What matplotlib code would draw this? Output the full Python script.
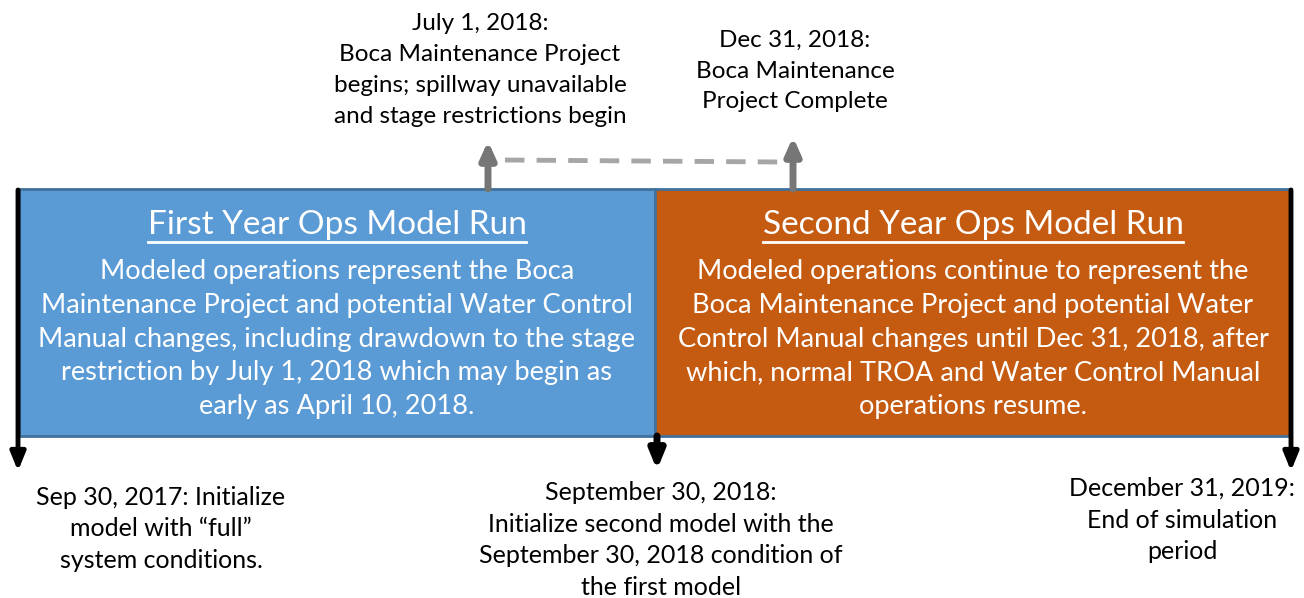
import matplotlib
matplotlib.use('Agg')
import matplotlib.pyplot as plt
from matplotlib.patches import Rectangle

plt.rcParams['font.family'] = ['Lato', 'DejaVu Sans']

# ---------------------------------------------
# Content of the timeline
box_titles = ['First Year Ops Model Run', 'Second Year Ops Model Run']
box_bodies = [
    'Modeled operations represent the Boca\n'
    'Maintenance Project and potential Water Control\n'
    'Manual changes, including drawdown to the stage\n'
    'restriction by July 1, 2018 which may begin as\n'
    'early as April 10, 2018.',
    'Modeled operations continue to represent the\n'
    'Boca Maintenance Project and potential Water\n'
    'Control Manual changes until Dec 31, 2018, after\n'
    'which, normal TROA and Water Control Manual\n'
    'operations resume.',
]
box_colors = ['#5B9BD5', '#C55A11']

top_notes = [
    'July 1, 2018:\nBoca Maintenance Project\nbegins; spillway unavailable\nand stage restrictions begin',
    'Dec 31, 2018:\nBoca Maintenance\nProject Complete',
]
bottom_notes = [
    'Sep 30, 2017: Initialize\nmodel with \u201cfull\u201d\nsystem conditions.',
    'September 30, 2018:\nInitialize second model with the\nSeptember 30, 2018 condition of\nthe first model',
    'December 31, 2019:\nEnd of simulation\nperiod',
]

W, H = 1304, 598
fig = plt.figure(figsize=(W / 100, H / 100), dpi=100)
ax = fig.add_axes([0, 0, 1, 1])
ax.set_xlim(0, W)
ax.set_ylim(H, 0)
ax.axis('off')

# boxes
box_x = [19, 655]
box_w = 636
box_top, box_bot = 189, 436
for x0, c in zip(box_x, box_colors):
    ax.add_patch(Rectangle((x0, box_top), box_w, box_bot - box_top,
                           facecolor=c, edgecolor='#41719C', lw=2, zorder=2))

# arrows
def arrow(x, y0, y1, color, width, hw, hl, z=3):
    ax.annotate('', xy=(x, y1), xytext=(x, y0),
                arrowprops=dict(arrowstyle='-|>,head_width=%g,head_length=%g' % (hw, hl),
                                color=color, lw=width, shrinkA=0, shrinkB=0),
                zorder=z)

arrow(18, 190, 471, 'black', 3.5, 0.45, 1.1)
arrow(657, 436, 470, 'black', 5, 0.45, 1.1)
arrow(1291, 190, 471, 'black', 3.5, 0.45, 1.1)

# gray arrows (up) and dashed link
arrow(488, 189, 141, '#767676', 5, 0.45, 1.0)
arrow(793, 189, 137, '#767676', 5, 0.45, 1.0)
ax.plot([505, 778], [160, 162], color='#A6A6A6', lw=3.5, ls=(0, (4, 2.5)), zorder=1)

# titles and body text
fig.canvas.draw()
renderer = fig.canvas.get_renderer()
for x0, title, body in zip(box_x, box_titles, box_bodies):
    cx = x0 + box_w / 2
    t = ax.text(cx, 225, title, color='white', fontsize=24, ha='center', va='center', zorder=4)
    bb = t.get_window_extent(renderer).transformed(ax.transData.inverted())
    ax.plot([bb.x0, bb.x1], [242, 242], color='white', lw=2, zorder=4)
    ax.text(cx, 339, body, color='white', fontsize=19.6, ha='center', va='center',
            linespacing=1.43, zorder=4)

top_x = [480, 795]
top_y = [70, 71]
for x, y, s in zip(top_x, top_y, top_notes):
    ax.text(x, y, s, fontsize=17.5, ha='center', va='center', linespacing=1.58)

bottom_x = [161, 661, 1182]
bottom_y = [529, 540, 520]
for x, y, s in zip(bottom_x, bottom_y, bottom_notes):
    ax.text(x, y, s, fontsize=18, ha='center', va='center', linespacing=1.45)

fig.savefig('out.png', dpi=100)
